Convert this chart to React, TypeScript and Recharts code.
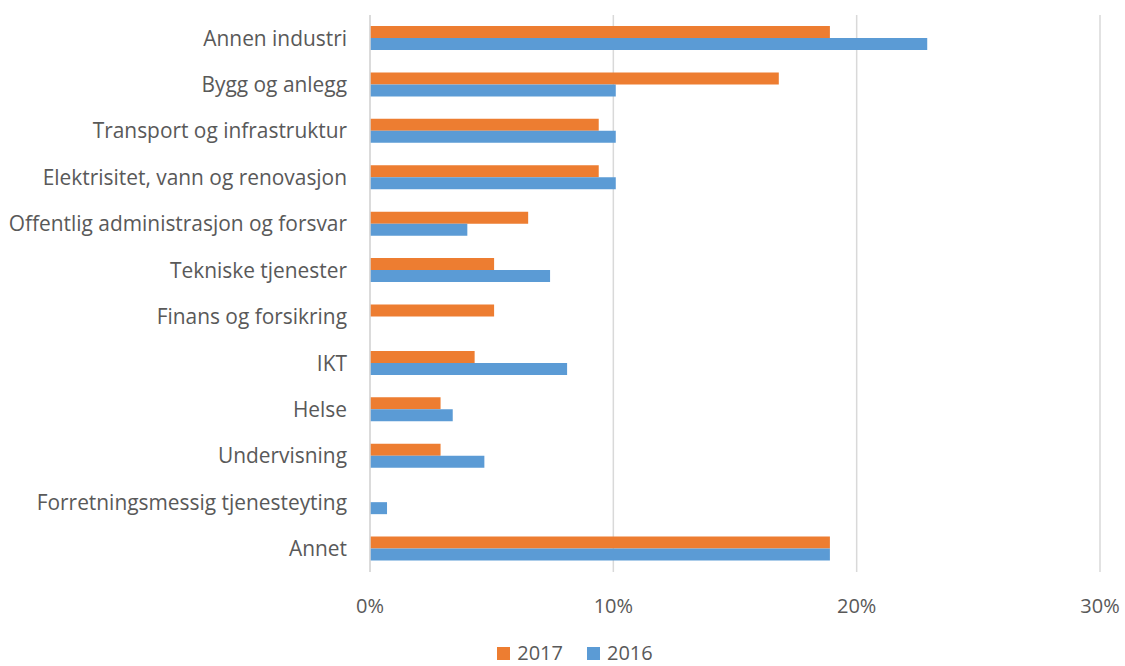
import { BarChart, Bar, XAxis, YAxis, CartesianGrid, Legend } from "recharts";

const categories = [
  "Annen industri",
  "Bygg og anlegg",
  "Transport og infrastruktur",
  "Elektrisitet, vann og renovasjon",
  "Offentlig administrasjon og forsvar",
  "Tekniske tjenester",
  "Finans og forsikring",
  "IKT",
  "Helse",
  "Undervisning",
  "Forretningsmessig tjenesteyting",
  "Annet",
];

const values2017 = [18.9, 16.8, 9.4, 9.4, 6.5, 5.1, 5.1, 4.3, 2.9, 2.9, 0, 18.9];
const values2016 = [22.9, 10.1, 10.1, 10.1, 4.0, 7.4, 0, 8.1, 3.4, 4.7, 0.7, 18.9];

const xTicks = [0, 10, 20, 30];

const series = [
  { key: "a2017", name: "2017", color: "#ED7D31" },
  { key: "b2016", name: "2016", color: "#5B9BD5" },
];

const data = categories.map((name, i) => ({
  name,
  a2017: values2017[i],
  b2016: values2016[i],
}));

const textColor = "#595959";
const font = "'Open Sans', sans-serif";

function LegendContent() {
  return (
    <div
      style={{
        display: "flex",
        justifyContent: "center",
        gap: 24,
        paddingLeft: 50,
        fontSize: 20,
        lineHeight: "26px",
        color: textColor,
        fontFamily: font,
      }}
    >
      {series.map((s) => (
        <div key={s.key} style={{ display: "flex", alignItems: "center", gap: 7 }}>
          <span style={{ width: 13, height: 13, background: s.color, display: "inline-block" }} />
          <span>{s.name}</span>
        </div>
      ))}
    </div>
  );
}

export default function App() {
  return (
    <div style={{ width: 1125, height: 666, background: "#fff", fontFamily: font }}>
      <style>{`body{margin:0}`}</style>
      <BarChart
        width={1125}
        height={666}
        data={data}
        layout="vertical"
        margin={{ top: 15, right: 25, left: 0, bottom: 0 }}
        barSize={12}
        barGap={0}
      >
        <CartesianGrid horizontal={false} stroke="#d9d9d9" strokeWidth={1.5} />
        <XAxis
          type="number"
          domain={[0, 30]}
          ticks={xTicks}
          tickFormatter={(v) => `${v}%`}
          axisLine={false}
          tickLine={false}
          tickMargin={21}
          height={68}
          tick={{ fill: textColor, fontSize: 20, fontFamily: font }}
        />
        <YAxis
          type="category"
          dataKey="name"
          width={370}
          axisLine={{ stroke: "#d9d9d9", strokeWidth: 1.5 }}
          tickLine={false}
          tickMargin={17}
          interval={0}
          tick={{ fill: textColor, fontSize: 20.9, fontFamily: font }}
        />
        <Legend verticalAlign="bottom" content={<LegendContent />} />
        {series.map((s) => (
          <Bar key={s.key} dataKey={s.key} name={s.name} fill={s.color} isAnimationActive={false} />
        ))}
      </BarChart>
    </div>
  );
}
